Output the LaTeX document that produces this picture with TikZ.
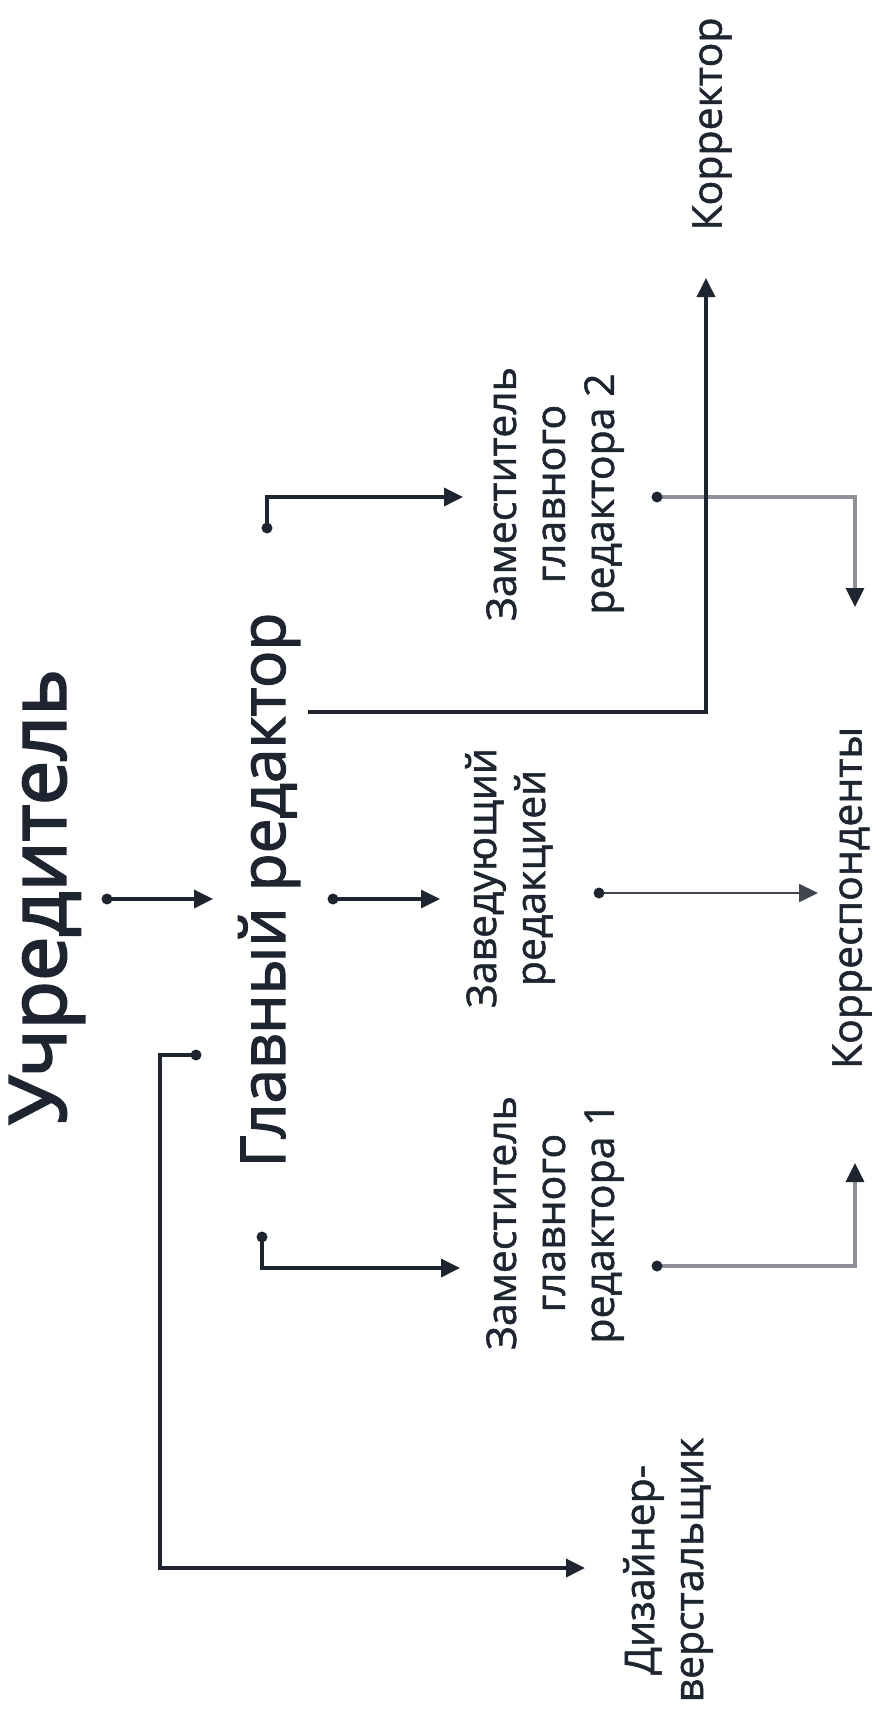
\documentclass[tikz,border=0pt]{standalone}
\usepackage{fontspec}
\setmainfont{Open Sans}[FakeBold=1.3]
\newfontfamily\heavyfont{Open Sans}[FakeBold=2.6]
\newfontfamily\medfont{Open Sans}[FakeBold=2.0]
\usetikzlibrary{arrows.meta}
\definecolor{ink}{HTML}{1E2430}
\definecolor{greyline}{HTML}{8E9197}
\tikzset{
  lbl/.style={rotate=90, anchor=center, text=ink, inner sep=0pt, align=center,
    font=\fontsize{41}{49}\selectfont},
  tip/.style={-{Triangle[length=19pt,width=18pt]}},
  conn/.style={draw=ink, line width=3.6pt, tip},
  thinconn/.style={draw=ink!85, line width=2.4pt, tip},
  greyconn/.style={draw=greyline, line width=3.2pt, -{Triangle[length=19pt,width=18pt,fill=ink,color=ink]}},
  dot/.style={fill=ink, circle, inner sep=0pt, minimum size=11pt},
}
\begin{document}
\begin{tikzpicture}[x=1pt,y=-1pt]
\useasboundingbox (0,0) rectangle (882,1710);
% nodes
\node[lbl, font=\heavyfont\fontsize{79}{86}\selectfont] (uchr) at (47,897) {Учредитель};
\node[lbl, font=\medfont\fontsize{62}{70}\selectfont] (glav) at (269,890) {Главный редактор};
\node[lbl] (zav) at (510,878) {Заведующий\\редакцией};
\node[lbl] (zam2) at (555,494) {Заместитель\\главного\\редактора 2};
\node[lbl] (zam1) at (555,1223) {Заместитель\\главного\\редактора 1};
\node[lbl] (korr) at (852,898) {Корреспонденты};
\node[lbl] (korrektor) at (712,124) {Корректор};
\node[lbl] (diz) at (668,1570) {Дизайнер-\\верстальщик};
% connector ends
\coordinate (a1) at (107,899); \coordinate (a1e) at (213,899);
\coordinate (a2) at (333,899); \coordinate (a2e) at (440,899);
\coordinate (a3) at (599,893); \coordinate (a3e) at (818,893);
\coordinate (a4) at (267,528); \coordinate (a4e) at (463,497);
\coordinate (a5) at (657,497); \coordinate (a5e) at (855,607);
\coordinate (a6) at (308,712); \coordinate (a6e) at (706,278);
\coordinate (a7) at (262,1237); \coordinate (a7e) at (460,1268);
\coordinate (a8) at (657,1266); \coordinate (a8e) at (855,1163);
\coordinate (a9) at (196,1055); \coordinate (a9e) at (585,1568);
% connectors
\draw[conn] (a1) -- (a1e);
\draw[conn, line width=3.2pt] (a2) -- (a2e);
\draw[thinconn] (a3) -- (a3e);
\draw[conn] (a4) |- (a4e);
\draw[greyconn] (a5) -| (a5e);
\draw[conn] (a6) -| (a6e);
\draw[conn] (a7) |- (a7e);
\draw[greyconn] (a8) -| (a8e);
\draw[conn] (a9) -- (160,1055) |- (a9e);
% dots
\foreach \p in {a1,a2,a3,a4,a5,a7,a8,a9} \node[dot] at (\p) {};
\end{tikzpicture}
\end{document}
